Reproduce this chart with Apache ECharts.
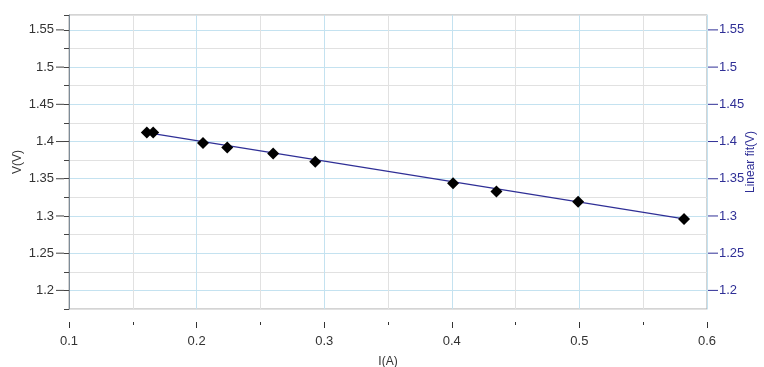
<!DOCTYPE html>
<html>
<head>
<meta charset="utf-8">
<script src="https://cdn.jsdelivr.net/npm/echarts@6/dist/echarts.min.js"></script>
<style>
  html, body { margin: 0; padding: 0; background: #fff; }
  #chart { width: 764px; height: 367px; }
</style>
</head>
<body>
<div id="chart"></div>
<script>
// measured I (A) and V (V)
const currentA = [0.161, 0.166, 0.205, 0.224, 0.260, 0.293, 0.401, 0.435, 0.499, 0.582];
const voltageV = [1.412, 1.412, 1.398, 1.392, 1.384, 1.373, 1.344, 1.333, 1.319, 1.296];

// linear fit, read at the two ends of the drawn line
const fitI = [0.161, 0.582];
const fitV = [1.412, 1.296];

const xTicks = [0.1, 0.2, 0.3, 0.4, 0.5, 0.6];
const yTicks = [1.2, 1.25, 1.3, 1.35, 1.4, 1.45, 1.5, 1.55];

const FONT = '"Liberation Sans", Arial, sans-serif';
const NAVY = '#2f2f96';
const GRID_MAJOR = '#c4e2f0';
const GRID_MINOR = '#e1e1e1';

const isYTick = (v) => yTicks.some((t) => Math.abs(t - v) < 1e-6);
const fmt = (v) => String(+v.toFixed(3));

const chart = echarts.init(document.getElementById('chart'), null, { renderer: 'canvas' });

chart.setOption({
  animation: false,
  backgroundColor: '#fff',
  textStyle: { fontFamily: FONT },
  grid: {
    left: 69, right: 57, top: 15, bottom: 58,
    outerBoundsMode: 'none',
    containLabel: false,
    show: true, borderColor: '#a8a8a8', borderWidth: 1,
  },
  xAxis: {
    type: 'value',
    min: xTicks[0],
    max: xTicks[xTicks.length - 1],
    interval: 0.1,
    offset: 13,
    name: 'I(A)',
    nameLocation: 'middle',
    nameGap: 34,
    nameMoveOverlap: false,
    nameTextStyle: { color: '#333', fontSize: 12, fontFamily: FONT },
    axisLine: { show: false },
    axisTick: { show: true, length: 6, lineStyle: { color: '#333' } },
    minorTick: { show: true, splitNumber: 2, length: 3, lineStyle: { color: '#333' } },
    axisLabel: {
      color: '#333', fontSize: 13, fontFamily: FONT, margin: 13,
      formatter: (v) => v.toFixed(1),
    },
    splitLine: { show: true, lineStyle: { color: GRID_MAJOR, width: 1 } },
    minorSplitLine: { show: true, lineStyle: { color: GRID_MINOR, width: 1 } },
  },
  yAxis: [
    {
      type: 'value',
      position: 'left',
      min: 1.175,
      max: 1.57,
      interval: 0.025,
      name: 'V(V)',
      nameLocation: 'middle',
      nameRotate: 90,
      nameGap: 45,
      nameMoveOverlap: false,
      nameTextStyle: { color: '#333', fontSize: 12, fontFamily: FONT },
      axisLine: { show: true, lineStyle: { color: '#7e8c98' } },
      axisTick: { show: true, length: 5, lineStyle: { color: '#444' } },
      axisLabel: {
        margin: 5,
        color: '#333', fontSize: 13, fontFamily: FONT,
        formatter: (v) => (isYTick(v) ? `{v|${fmt(v)}}{s|}{t|}` : ''),
        rich: {
          v: { color: '#333', fontSize: 13, fontFamily: FONT },
          s: { width: 2 },
          t: { width: 8, height: 1, backgroundColor: '#444', verticalAlign: 'middle' },
        },
      },
      splitLine: { show: true, lineStyle: { color: [GRID_MINOR, GRID_MAJOR], width: 1 } },
    },
    {
      type: 'value',
      position: 'right',
      min: 1.175,
      max: 1.57,
      interval: 0.025,
      name: 'Linear fit(V)',
      nameLocation: 'middle',
      nameRotate: 90,
      nameGap: 38,
      nameMoveOverlap: false,
      nameTextStyle: { color: NAVY, fontSize: 12, fontFamily: FONT },
      axisLine: { show: true, lineStyle: { color: GRID_MAJOR } },
      axisTick: { show: false },
      axisLabel: {
        margin: 1,
        color: NAVY, fontSize: 13, fontFamily: FONT,
        formatter: (v) => (isYTick(v) ? `{t|}{s|}{v|${fmt(v)}}` : ''),
        rich: {
          v: { color: NAVY, fontSize: 13, fontFamily: FONT },
          s: { width: 1 },
          t: { width: 10, height: 1, backgroundColor: NAVY, verticalAlign: 'middle' },
        },
      },
      splitLine: { show: false },
    },
  ],
  series: [
    {
      name: 'Linear fit',
      type: 'line',
      yAxisIndex: 0,
      showSymbol: false,
      lineStyle: { color: NAVY, width: 1.2 },
      data: fitI.map((x, i) => [x, fitV[i]]),
      z: 2,
    },
    {
      name: 'V',
      type: 'scatter',
      yAxisIndex: 0,
      symbol: 'diamond',
      symbolSize: 12,
      itemStyle: { color: '#000', opacity: 1 },
      data: currentA.map((x, i) => [x, voltageV[i]]),
      z: 3,
    },
  ],
});
</script>
</body>
</html>
